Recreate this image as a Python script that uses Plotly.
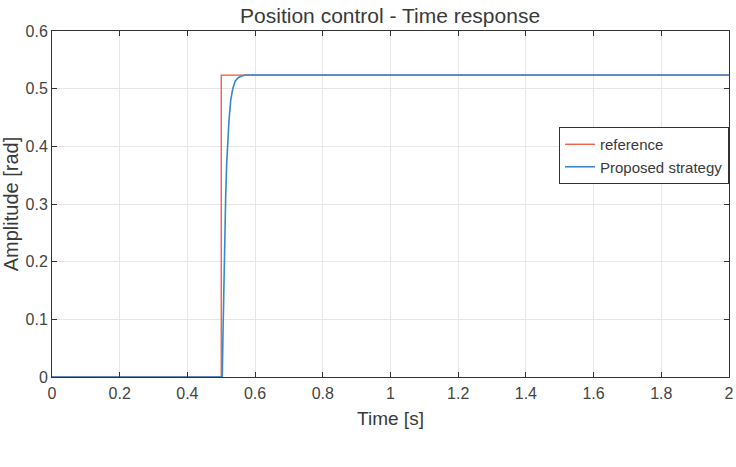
import plotly.graph_objects as go

# Reference step (rad)
ref_t = [0.0, 0.5, 0.5, 2.0]
ref_y = [0.0, 0.0, 0.5236, 0.5236]

# Proposed strategy response
prop_t = [0.0, 0.503, 0.505, 0.507, 0.510, 0.513, 0.516, 0.519, 0.523, 0.528,
          0.534, 0.541, 0.550, 0.560, 0.572, 2.0]
prop_y = [0.0, 0.0, 0.07, 0.14, 0.23, 0.31, 0.37, 0.41, 0.446, 0.480,
          0.500, 0.513, 0.519, 0.522, 0.5236, 0.5236]

x_ticks = [0, 0.2, 0.4, 0.6, 0.8, 1, 1.2, 1.4, 1.6, 1.8, 2]
x_ticktext = ["0", "0.2", "0.4", "0.6", "0.8", "1", "1.2", "1.4", "1.6", "1.8", "2"]
y_ticks = [0, 0.1, 0.2, 0.3, 0.4, 0.5, 0.6]
y_ticktext = ["0", "0.1", "0.2", "0.3", "0.4", "0.5", "0.6"]

FONT = "Liberation Sans, Arial, sans-serif"

fig = go.Figure()
fig.add_trace(go.Scatter(x=ref_t, y=ref_y, mode="lines", name="reference",
                         line=dict(color="#f0543f", width=1.3)))
fig.add_trace(go.Scatter(x=prop_t, y=prop_y, mode="lines", name="Proposed strategy",
                         line=dict(color="#3a88cc", width=1.6)))

axis_common = dict(showline=True, linecolor="#333333", linewidth=1, mirror="ticks",
                   ticks="inside", ticklen=5, tickcolor="#333333",
                   showgrid=True, gridcolor="#e6e6e6", gridwidth=1, zeroline=False,
                   tickfont=dict(family=FONT, size=16, color="#444444"))

fig.update_layout(
    width=736, height=467,
    margin=dict(l=52, r=7, t=31, b=90),
    paper_bgcolor="white", plot_bgcolor="white",
    title=dict(text="Position control - Time response", x=0.53, xanchor="center",
               y=0.966, yanchor="middle",
               font=dict(family=FONT, size=21, color="#3a3a3a")),
    xaxis=dict(range=[0, 2], tickvals=x_ticks, ticktext=x_ticktext,
               ticklabelstandoff=2,
               title=dict(text="Time [s]", font=dict(family=FONT, size=19, color="#3a3a3a"), standoff=10),
               automargin=False, **axis_common),
    yaxis=dict(range=[0, 0.6], tickvals=y_ticks, ticktext=y_ticktext,
               title=dict(text="Amplitude [rad]", font=dict(family=FONT, size=20, color="#3a3a3a"), standoff=2),
               automargin=False, **axis_common),
    legend=dict(x=1.0, y=0.7225, xanchor="right", yanchor="top",
                bgcolor="white", bordercolor="#333333", borderwidth=1,
                font=dict(family=FONT, size=15, color="#3a3a3a"),
                itemwidth=30, tracegroupgap=0),
    showlegend=True,
)

fig.write_html("out.html")
